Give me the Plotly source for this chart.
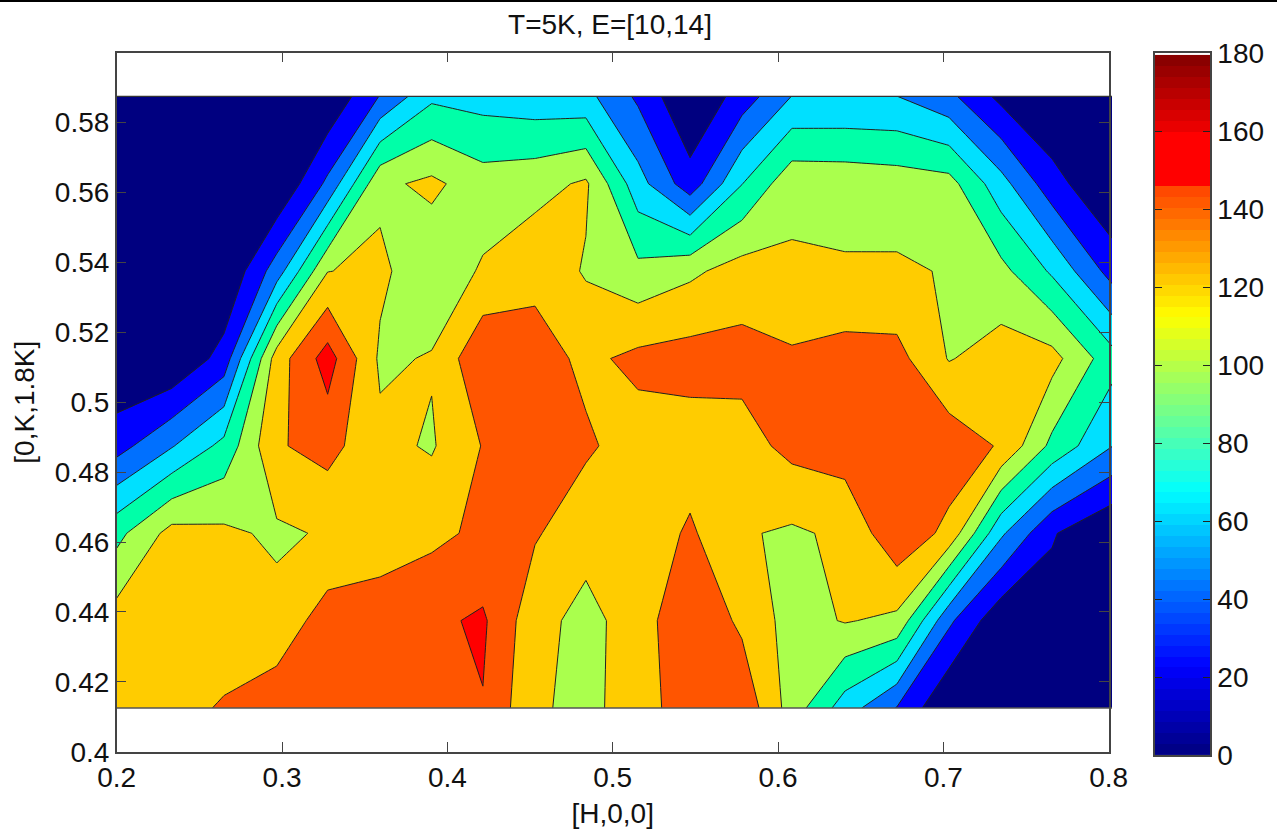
import numpy as np
import plotly.graph_objects as go

W, H = 1277, 832

# grid of the contour data
X = [0.2, 0.2333, 0.2649, 0.2968, 0.3276, 0.3593, 0.3905, 0.4215, 0.4530, 0.4838,
     0.5153, 0.5468, 0.5782, 0.6084, 0.6405, 0.6719, 0.7034, 0.7349, 0.7657, 0.8020]
Y = [0.4125, 0.4375, 0.4625, 0.4875, 0.5125, 0.5375, 0.5625, 0.5875]

ROW_0 = [128, 133, 142, 152, 155, 155, 155, 159, 123, 114.4, 130, 152, 155, 111, 70, 39, 0, 0, 0, 0]
ROW_1 = [129, 130, 128, 127, 149.5, 150, 156, 163, 127, 113.5, 130, 157, 136, 111.8, 121.4, 115.5, 44, 4.6, 10, 0]
ROW_2 = [94, 127, 124, 116.4, 122.3, 130, 135.4, 144, 142, 127.6, 127, 143, 122, 117, 124, 155, 134.5, 63.5, 22, 0]
ROW_3 = [32, 58.5, 86, 138, 147, 125, 118, 141, 150, 143, 131, 130, 131.6, 146, 150, 150, 152.7, 137.8, 95, 60.5]
ROW_4 = [0, 0, 28, 130, 169, 116.7, 121.5, 157, 149, 135.5, 145, 148, 147.3, 143, 148, 146.6, 118.8, 129, 127, 88]
ROW_5 = [0, 0, 0, 50, 119.5, 124.3, 105.5, 122.5, 134, 118, 105.5, 116, 128.6, 123.4, 122, 122.7, 118.7, 106, 77, 32]
ROW_6 = [0, 0, 0, 0, 44.4, 115.7, 124.4, 109, 113, 123, 68, 28.5, 79.5, 114, 113, 110.5, 107.4, 67.5, 28, 0]
ROW_7 = [0, 0, 0, 0, 2, 41, 76, 72, 68, 66, 36.4, 0, 29, 60.4, 61, 60.2, 45, 14.5, 0, 0]
Z = [ROW_0, ROW_1, ROW_2, ROW_3, ROW_4, ROW_5, ROW_6, ROW_7]

BAND_COLORS = ["#000080", "#0000ff", "#0070ff", "#00e0ff", "#00ffa8",
               "#aaff4d", "#ffcc00", "#ff5500", "#ff0000"]

X_TICKS = [0.2, 0.3, 0.4, 0.5, 0.6, 0.7, 0.8]
X_LABELS = ["0.2", "0.3", "0.4", "0.5", "0.6", "0.7", "0.8"]
Y_TICKS = [0.4, 0.42, 0.44, 0.46, 0.48, 0.5, 0.52, 0.54, 0.56, 0.58]
Y_LABELS = ["0.4", "0.42", "0.44", "0.46", "0.48", "0.5", "0.52", "0.54", "0.56", "0.58"]
CB_TICKS = [0, 20, 40, 60, 80, 100, 120, 140, 160, 180]

TITLE = "T=5K, E=[10,14]"
X_TITLE = "[H,0,0]"
Y_TITLE = "[0,K,1.8K]"

FONT = "Liberation Sans, Arial, sans-serif"
FS = 28
AXC = "#444444"


def jet(u):
    r = np.clip(min(4 * u - 1.5, -4 * u + 4.5), 0, 1)
    g = np.clip(min(4 * u - 0.5, -4 * u + 3.5), 0, 1)
    b = np.clip(min(4 * u + 0.5, -4 * u + 2.5), 0, 1)
    return r, g, b


# 64-step colour ramp for the colour bar, ending just under the top of its axis
CB_TOP = 179.5
step = CB_TOP / 64
cb_vals = [(i + 0.5) * step for i in range(64)]
vmin, vmax = cb_vals[0], cb_vals[-1]
cb_scale = []
for v in cb_vals:
    r, g, b = jet(v / 180)
    if 147 <= v < 160:
        r, g, b = 1, 0, 0
    cb_scale.append([(v - vmin) / (vmax - vmin), f"rgb({int(r*255)},{int(g*255)},{int(b*255)})"])
cb_scale[0][0] = 0.0
cb_scale[-1][0] = 1.0

band_scale = []
for i, c in enumerate(BAND_COLORS):
    band_scale += [[i / 9, c], [(i + 1) / 9, c]]

fig = go.Figure()
fig.add_trace(go.Contour(
    x=X, y=Y, z=Z, xaxis="x", yaxis="y",
    zmin=0, zmax=180, autocontour=False,
    contours=dict(start=20, end=160, size=20, coloring="fill", showlines=True),
    line=dict(color="#202020", width=1, smoothing=0),
    colorscale=band_scale, showscale=False, hoverinfo="skip",
))
fig.add_trace(go.Scatter(x=[None], y=[None], xaxis="x2", yaxis="y2", mode="markers",
                         showlegend=False, hoverinfo="skip"))
fig.add_trace(go.Heatmap(
    x=[0.5], y=cb_vals, z=[[v] for v in cb_vals],
    xaxis="x3", yaxis="y3", zmin=vmin, zmax=vmax,
    colorscale=cb_scale, showscale=False, hoverinfo="skip", xgap=0, ygap=0,
))

ytop = (H - 52.7) / H
ybot = (H - 751.7) / H
tickfont = dict(family=FONT, size=FS, color="#111111")
axis_common = dict(showgrid=False, zeroline=False, showline=True, linecolor=AXC, linewidth=1.5,
                   mirror="ticks", ticks="inside", ticklen=10, tickwidth=1.2, tickcolor=AXC,
                   tickfont=tickfont, automargin=False)

fig.update_layout(
    width=W, height=H, autosize=False,
    margin=dict(l=0, r=0, t=0, b=0, pad=0),
    paper_bgcolor="white", plot_bgcolor="rgba(0,0,0,0)",
    showlegend=False,
    font=dict(family=FONT, size=FS, color="#111111"),
    title=dict(text=TITLE, x=610 / W, xanchor="center", y=1 - 24 / H, yanchor="middle",
               font=dict(family=FONT, size=FS, color="#111111")),
    xaxis=dict(domain=[116.7 / W, 1112 / W], range=[X[0], X[-1]], visible=False, fixedrange=True),
    yaxis=dict(domain=[ybot, ytop], range=[0.4, 0.6], visible=False, fixedrange=True),
    xaxis2=dict(domain=[116.7 / W, 1108.7 / W], range=[0.2, 0.8], anchor="y2",
                tickvals=X_TICKS, ticktext=X_LABELS,
                title=dict(text=X_TITLE, font=dict(family=FONT, size=FS, color="#111111"), standoff=11),
                **axis_common),
    yaxis2=dict(domain=[ybot, ytop], range=[0.4, 0.6], anchor="x2",
                tickvals=Y_TICKS, ticktext=Y_LABELS,
                title=dict(text=Y_TITLE, font=dict(family=FONT, size=FS, color="#111111"), standoff=12),
                **axis_common),
    xaxis3=dict(domain=[1155 / W, 1210 / W], range=[0, 1], anchor="y3", showgrid=False, zeroline=False,
                showticklabels=False, ticks="", showline=True, mirror=True, linecolor=AXC, linewidth=1.5),
    yaxis3=dict(domain=[(H - 755) / H, (H - 53) / H], range=[0, 180], anchor="x3", side="right",
                tickvals=CB_TICKS, ticktext=[str(t) for t in CB_TICKS],
                showgrid=False, zeroline=False, showline=True, linecolor=AXC, linewidth=1.5,
                mirror="ticks", ticks="inside", ticklen=7, tickwidth=1.2, tickcolor="#222222",
                tickfont=tickfont, automargin=False),
    shapes=[
        dict(type="line", xref="x", yref="y", x0=X[0], x1=X[-1], y0=Y[0], y1=Y[0],
             line=dict(color="#555555", width=1.5)),
        dict(type="line", xref="x", yref="y", x0=X[0], x1=X[-1], y0=Y[-1], y1=Y[-1],
             line=dict(color="#333333", width=1.2)),
        dict(type="rect", xref="paper", yref="paper", x0=0, x1=1, y0=1 - 2 / H, y1=1,
             fillcolor="black", line=dict(width=0)),
    ],
)

fig.write_html("out.html", config={"displayModeBar": False},
               post_script="document.body.style.margin='0';")
